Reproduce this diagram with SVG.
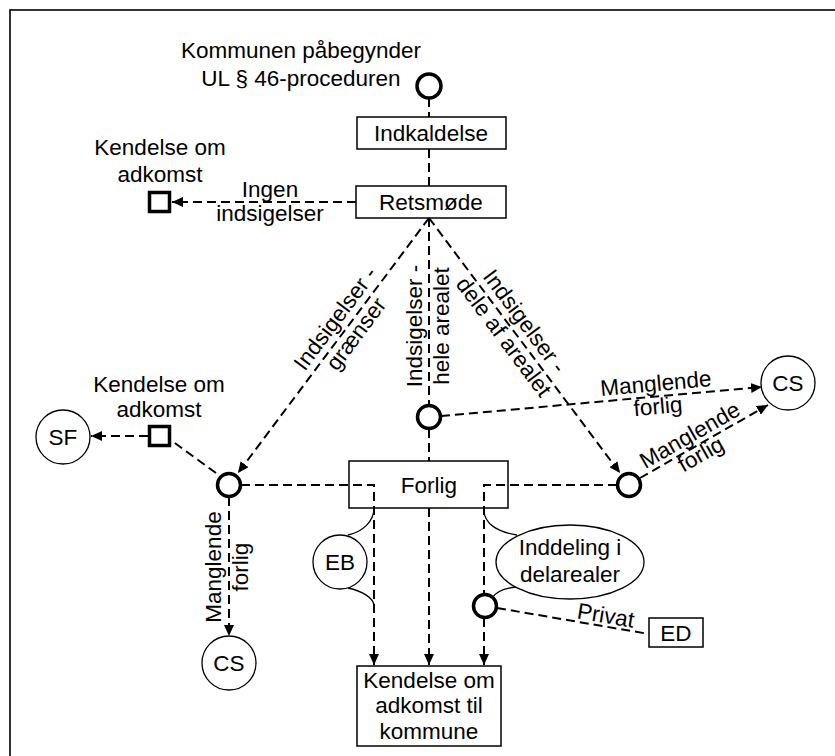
<svg xmlns="http://www.w3.org/2000/svg" width="835" height="756" viewBox="0 0 835 756">
  <defs>
    <marker id="arrow" markerUnits="userSpaceOnUse" markerWidth="12" markerHeight="10" refX="11" refY="5" orient="auto">
      <path d="M0,0 L11,5 L0,10 z" fill="#000"/>
    </marker>
    <style>
      text { font-family: "Liberation Sans", Arial, sans-serif; font-size: 22.5px; fill: #000; text-anchor: middle; }
      .box { fill: #fff; stroke: #000; stroke-width: 1.5; }
      .state { fill: #fff; stroke: #000; stroke-width: 3.5; }
      .end { fill: #fff; stroke: #000; stroke-width: 1.3; }
      .flow { fill: none; stroke: #000; stroke-width: 2; stroke-dasharray: 9 5; }
      .arrowed { marker-end: url(#arrow); }
      .brace { fill: none; stroke: #000; stroke-width: 1.3; }
    </style>
  </defs>
  <rect width="835" height="756" fill="#fff"/>
  <rect x="10" y="10" width="900" height="900" fill="none" stroke="#000" stroke-width="1.6"/>

  <!-- connectors -->
  <g id="connectors">
    <path class="flow" d="M429 98 V117"/>
    <path class="flow" d="M429 149 V186"/>
    <path class="flow arrowed" d="M356 202 H172"/>
    <path class="flow" d="M429 218 V405"/>
    <path class="flow" d="M429 429 V461"/>
    <path class="flow arrowed" d="M429 508 V665"/>
    <path class="flow arrowed" d="M429 218 L238 473"/>
    <path class="flow arrowed" d="M429 218 L620 473"/>
    <path class="flow arrowed" d="M241 485 H374 V665"/>
    <path class="flow arrowed" d="M617 485 H484 V665"/>
    <path class="flow" d="M216 473 L172 441"/>
    <path class="flow arrowed" d="M148 436 H91"/>
    <path class="flow arrowed" d="M229 497 V636"/>
    <path class="flow arrowed" d="M441 416 L762 387"/>
    <path class="flow arrowed" d="M640 478 L768 405"/>
    <path class="flow" d="M497 608 L649 634"/>
    <path class="brace" d="M348 535 C362 532 374 522 374 508"/>
    <path class="brace" d="M348 588 C362 591 374 598 374 606"/>
    <path class="brace" d="M484 510 C484 524 498 532 517 535"/>
    <path class="brace" d="M517 587 C505 588 496 592 492 598"/>
  </g>

  <!-- connector labels -->
  <g id="labels">
    <text x="270" y="197">Ingen</text>
    <text x="270" y="221">indsigelser</text>
    <g transform="translate(347,327) rotate(-53.2)">
      <text y="-7">Indsigelser -</text>
      <text y="19">grænser</text>
    </g>
    <g transform="translate(429,326) rotate(-90)">
      <text y="-7">Indsigelser -</text>
      <text y="20">hele arealet</text>
    </g>
    <g transform="translate(513,330) rotate(53.2)">
      <text y="-7">Indsigelser -</text>
      <text y="19">dele af arealet</text>
    </g>
    <g transform="translate(229,567) rotate(-90)">
      <text y="-8">Manglende</text>
      <text y="19">forlig</text>
    </g>
    <g transform="translate(657,396) rotate(-5.2)">
      <text y="-5">Manglende</text>
      <text y="18">forlig</text>
    </g>
    <g transform="translate(696,446) rotate(-29.7)">
      <text y="-5">Manglende</text>
      <text y="17">forlig</text>
    </g>
    <g transform="translate(604,626) rotate(9.4)">
      <text y="-3">Privat</text>
    </g>
  </g>

  <!-- nodes -->
  <g id="start">
    <circle class="state" cx="429" cy="86" r="12"/>
    <text x="301" y="58">Kommunen påbegynder</text>
    <text x="301" y="86">UL § 46-proceduren</text>
  </g>
  <g id="indkaldelse">
    <rect class="box" x="357" y="117" width="149" height="32"/>
    <text x="431" y="141">Indkaldelse</text>
  </g>
  <g id="retsmoede">
    <rect class="box" x="356" y="186" width="150" height="32"/>
    <text x="431" y="210">Retsmøde</text>
  </g>
  <g id="kendelse-top">
    <rect class="state" x="149.5" y="192.5" width="20" height="19"/>
    <text x="160" y="155">Kendelse om</text>
    <text x="160" y="182">adkomst</text>
  </g>
  <g id="kendelse-left">
    <rect class="state" x="149.5" y="426.5" width="20" height="19"/>
    <text x="159" y="392">Kendelse om</text>
    <text x="159" y="417">adkomst</text>
  </g>
  <g id="sf">
    <circle class="end" cx="63" cy="437" r="27"/>
    <text x="63" y="445">SF</text>
  </g>
  <g id="graenser">
    <circle class="state" cx="229" cy="485" r="11.5"/>
  </g>
  <g id="hele">
    <circle class="state" cx="429" cy="417" r="11.5"/>
  </g>
  <g id="dele">
    <circle class="state" cx="629" cy="485" r="11.5"/>
  </g>
  <g id="forlig">
    <rect class="box" x="349" y="461" width="159" height="47" fill-opacity="0"/>
    <text x="429" y="493">Forlig</text>
  </g>
  <g id="cs-left">
    <circle class="end" cx="229" cy="663" r="27"/>
    <text x="229" y="671">CS</text>
  </g>
  <g id="cs-right">
    <circle class="end" cx="788" cy="383" r="27"/>
    <text x="788" y="391">CS</text>
  </g>
  <g id="eb">
    <circle class="end" cx="340" cy="562" r="27"/>
    <text x="340" y="570">EB</text>
  </g>
  <g id="inddeling">
    <ellipse class="end" cx="570" cy="562" rx="74" ry="37"/>
    <text x="570" y="555">Inddeling i</text>
    <text x="570" y="582">delarealer</text>
  </g>
  <g id="delareal">
    <circle class="state" cx="485" cy="606" r="11.5"/>
  </g>
  <g id="ed">
    <rect class="box" x="649" y="618" width="54" height="29"/>
    <text x="676" y="641">ED</text>
  </g>
  <g id="kendelse-kommune">
    <rect class="box" x="357" y="666" width="144" height="80"/>
    <text x="429" y="688">Kendelse om</text>
    <text x="429" y="713">adkomst til</text>
    <text x="429" y="739">kommune</text>
  </g>
</svg>
